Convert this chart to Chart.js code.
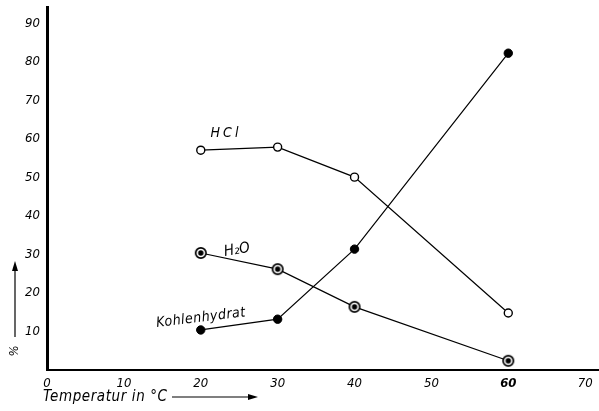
<!DOCTYPE html>
<html>
<head>
<meta charset="utf-8">
<script src="https://cdn.jsdelivr.net/npm/chart.js@4"></script>
<style>
  html, body { margin: 0; padding: 0; background: #fff; overflow: hidden; }
  #wrap { position: relative; width: 599px; height: 411px; }
  #chart { display: block; }
</style>
</head>
<body>
<div id="wrap"><canvas id="chart"></canvas></div>
<script>
// temperatures (°C) and values in %
const temps = [20, 30, 40, 60];
const hclValues = [57.1, 57.9, 50.1, 14.8];
const waterValues = [30.4, 26.2, 16.4, 2.4];
const carbValues = [10.4, 13.2, 31.4, 82.3];
const xTicks = [0, 10, 20, 30, 40, 50, 60, 70];
const yTicks = [10, 20, 30, 40, 50, 60, 70, 80, 90];

const FONT = '"DejaVu Sans Condensed", "DejaVu Sans", sans-serif';

function toPoints(values) {
  return temps.map((t, i) => ({ x: t, y: values[i] }));
}

// ring with a dot in the middle for H2O
function ringDot() {
  const c = document.createElement('canvas');
  c.width = 14; c.height = 14;
  const g = c.getContext('2d');
  g.beginPath();
  g.arc(7, 7, 5.2, 0, Math.PI * 2);
  g.fillStyle = '#fff';
  g.fill();
  g.lineWidth = 1.7;
  g.strokeStyle = '#000';
  g.stroke();
  g.beginPath();
  g.arc(7, 7, 2.7, 0, Math.PI * 2);
  g.fillStyle = '#000';
  g.fill();
  return c;
}

// labels drawn in the plot and axis titles with arrows
const annotations = {
  id: 'annotations',
  afterDraw(chart) {
    const ctx = chart.ctx;
    ctx.save();
    ctx.fillStyle = '#000';
    ctx.strokeStyle = '#000';
    ctx.textBaseline = 'middle';
    ctx.textAlign = 'center';

    ctx.font = 'italic 14px ' + FONT;
    ctx.letterSpacing = '3px';
    ctx.fillText('HCl', 226, 133);
    ctx.letterSpacing = '0px';

    ctx.save();
    ctx.translate(237, 250);
    ctx.rotate(-0.17);
    ctx.font = 'italic 15px ' + FONT;
    ctx.fillText('H₂O', 0, 0);
    ctx.restore();

    ctx.save();
    ctx.translate(201, 318);
    ctx.rotate(-0.12);
    ctx.font = 'italic 14px ' + FONT;
    ctx.letterSpacing = '0.5px';
    ctx.fillText('Kohlenhydrat', 0, 0);
    ctx.letterSpacing = '0px';
    ctx.restore();

    // x title
    ctx.textAlign = 'left';
    ctx.font = 'italic 15px ' + FONT;
    ctx.letterSpacing = '0.6px';
    ctx.fillText('Temperatur in °C', 43, 397);
    ctx.letterSpacing = '0px';
    ctx.lineWidth = 1.2;
    ctx.beginPath();
    ctx.moveTo(172, 397);
    ctx.lineTo(252, 397);
    ctx.stroke();
    ctx.beginPath();
    ctx.moveTo(258, 397);
    ctx.lineTo(248, 394);
    ctx.lineTo(248, 400);
    ctx.closePath();
    ctx.fill();

    // y title
    ctx.save();
    ctx.translate(15, 351);
    ctx.rotate(-Math.PI / 2);
    ctx.textAlign = 'center';
    ctx.font = 'italic 13px ' + FONT;
    ctx.fillText('%', 0, 0);
    ctx.restore();
    ctx.beginPath();
    ctx.moveTo(15, 337);
    ctx.lineTo(15, 268);
    ctx.stroke();
    ctx.beginPath();
    ctx.moveTo(15, 261);
    ctx.lineTo(12, 271);
    ctx.lineTo(18, 271);
    ctx.closePath();
    ctx.fill();
    ctx.restore();
  }
};

const lineStyle = {
  borderColor: '#000',
  borderWidth: 1.2,
  tension: 0,
  fill: false
};

new Chart(document.getElementById('chart'), {
  type: 'line',
  data: {
    datasets: [
      Object.assign({
        label: 'HCl',
        data: toPoints(hclValues),
        pointStyle: 'circle',
        pointRadius: 4,
        pointBackgroundColor: '#fff',
        pointBorderColor: '#000',
        pointBorderWidth: 1.4
      }, lineStyle),
      Object.assign({
        label: 'H2O',
        data: toPoints(waterValues),
        pointStyle: ringDot(),
        pointRadius: 6
      }, lineStyle),
      Object.assign({
        label: 'Kohlenhydrat',
        data: toPoints(carbValues),
        pointStyle: 'circle',
        pointRadius: 4.2,
        pointBackgroundColor: '#000',
        pointBorderColor: '#000',
        pointBorderWidth: 1
      }, lineStyle)
    ]
  },
  options: {
    responsive: true,
    maintainAspectRatio: false,
    animation: false,
    layout: { autoPadding: false, padding: { top: 7, right: 0, left: 0, bottom: 0 } },
    plugins: {
      legend: { display: false },
      tooltip: { enabled: false }
    },
    scales: {
      x: {
        type: 'linear',
        min: 0,
        max: 71.8,
        afterFit: scale => {
          scale.height = 41;
          scale.paddingLeft = 0;
          scale.paddingRight = 0;
        },
        afterBuildTicks: scale => { scale.ticks = xTicks.map(v => ({ value: v })); },
        grid: { display: false, drawTicks: false },
        border: { display: true, color: '#000', width: 2 },
        ticks: {
          padding: 6,
          color: '#000',
          font: ctx => ({
            family: FONT,
            size: 13,
            style: 'italic',
            weight: ctx.tick && ctx.tick.value === 60 ? 'bold' : 'normal'
          })
        }
      },
      y: {
        min: 0,
        max: 94.3,
        afterFit: scale => {
          scale.width = 47;
          scale.paddingTop = 0;
          scale.paddingBottom = 0;
        },
        afterBuildTicks: scale => { scale.ticks = yTicks.map(v => ({ value: v })); },
        grid: { display: false, drawTicks: false },
        border: { display: true, color: '#000', width: 3 },
        ticks: {
          padding: 7,
          color: '#000',
          font: { family: FONT, size: 13, style: 'italic' }
        }
      }
    }
  },
  plugins: [annotations]
});
</script>
</body>
</html>
